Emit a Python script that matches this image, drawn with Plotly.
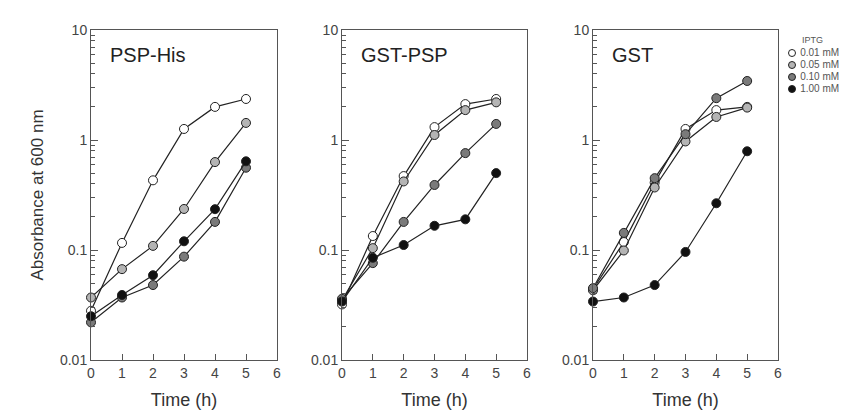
import plotly.graph_objects as go

# time points (h)
hours = [0, 1, 2, 3, 4, 5]

# IPTG concentrations
iptg_labels = ["0.01 mM", "0.05 mM", "0.10 mM", "1.00 mM"]
marker_fill = ["white", "#b4b4b4", "#7a7a7a", "#111111"]

panel_names = ["PSP-His", "GST-PSP", "GST"]

# absorbance at 600 nm, one list per IPTG concentration
psp_his = [
    [0.028, 0.116, 0.43, 1.26, 2.0, 2.36],
    [0.037, 0.067, 0.109, 0.236, 0.63, 1.43],
    [0.022, 0.037, 0.048, 0.087, 0.18, 0.56],
    [0.025, 0.039, 0.059, 0.12, 0.235, 0.64],
]
gst_psp = [
    [0.032, 0.134, 0.47, 1.31, 2.12, 2.36],
    [0.035, 0.104, 0.42, 1.11, 1.87, 2.2],
    [0.036, 0.076, 0.18, 0.39, 0.76, 1.4],
    [0.034, 0.085, 0.111, 0.166, 0.19, 0.5],
]
gst = [
    [0.044, 0.118, 0.41, 1.26, 1.87, 2.0],
    [0.043, 0.099, 0.37, 0.97, 1.62, 1.97],
    [0.045, 0.143, 0.45, 1.13, 2.4, 3.44],
    [0.034, 0.037, 0.048, 0.096, 0.266, 0.79],
]
panels = [psp_his, gst_psp, gst]

W, H = 848, 414
OFF = 8  # page body margin shifts the figure by this much
x_px = [(91, 277), (342, 527), (593, 778)]
y_top, y_bot = 30, 360


def px_x(p):
    return (p - OFF) / W


def px_y(p):
    return 1 - (p - OFF) / H


fig = go.Figure()
font = "Liberation Sans, Arial, sans-serif"
minor_vals = [d * k for d in (0.01, 0.1, 1) for k in range(2, 10)]

for i, data in enumerate(panels):
    sfx = "" if i == 0 else str(i + 1)
    for j, vals in enumerate(data):
        fig.add_trace(go.Scatter(
            x=hours, y=vals, mode="lines+markers",
            xaxis="x" + sfx, yaxis="y" + sfx,
            line=dict(color="#222222", width=1.2),
            marker=dict(size=9, color=marker_fill[j], line=dict(color="#222222", width=1)),
            cliponaxis=False, showlegend=False,
        ))
    x0, x1 = x_px[i]
    fig.update_layout(**{
        "xaxis" + sfx: dict(
            domain=[px_x(x0), px_x(x1)], range=[0, 6], dtick=1, automargin=False,
            anchor="y" + sfx, showline=True, linecolor="#555555", linewidth=1, mirror=True,
            ticks="inside", ticklen=6, tickcolor="#555555", showgrid=False, zeroline=False,
            tickfont=dict(size=14, color="#444444", family=font),
            title=dict(text="Time (h)", font=dict(size=18, color="#333333", family=font), standoff=13),
        ),
        "yaxis" + sfx: dict(
            domain=[px_y(y_bot), px_y(y_top)], type="log", range=[-2, 1], automargin=False,
            anchor="x" + sfx, showline=True, linecolor="#555555", linewidth=1, mirror=True,
            tickvals=[0.01, 0.1, 1, 10], ticktext=["0.01", "0.1", "1", "10"],
            ticks="inside", ticklen=7, tickcolor="#555555", showgrid=False, zeroline=False,
            minor=dict(ticks="inside", ticklen=4, tickcolor="#555555", showgrid=False,
                       tickvals=minor_vals),
            tickfont=dict(size=14, color="#444444", family=font),
        ),
    })
    fig.add_annotation(
        text=panel_names[i], x=px_x(x0 + 17), y=px_y(55), xref="paper", yref="paper",
        xanchor="left", yanchor="middle", showarrow=False,
        font=dict(size=20, color="#222222", family=font),
    )

fig.update_layout(yaxis_title=dict(text="Absorbance at 600 nm",
                                   font=dict(size=17, color="#333333", family=font), standoff=12))

# IPTG key, drawn as a small axis of its own
fig.add_trace(go.Scatter(
    x=[7] * len(iptg_labels), y=list(range(len(iptg_labels))),
    mode="markers+text", text=[" " + s for s in iptg_labels], textposition="middle right",
    textfont=dict(size=10, color="#555555", family=font),
    marker=dict(size=7, color=marker_fill, line=dict(color="#222222", width=1)),
    xaxis="x4", yaxis="y4", cliponaxis=False, showlegend=False, hoverinfo="skip",
))
fig.update_layout(
    xaxis4=dict(domain=[px_x(785), px_x(848)], range=[0, 63], visible=False, anchor="y4"),
    yaxis4=dict(domain=[px_y(95), px_y(47)], range=[3.5, -0.5], visible=False, anchor="x4"),
)
fig.add_annotation(
    text="IPTG", x=px_x(812), y=px_y(40), xref="paper", yref="paper",
    xanchor="center", yanchor="middle", showarrow=False,
    font=dict(size=9, color="#555555", family=font),
)

fig.update_layout(
    width=W, height=H, margin=dict(l=0, r=0, t=0, b=0),
    paper_bgcolor="white", plot_bgcolor="white",
)

fig.write_html("out.html")
